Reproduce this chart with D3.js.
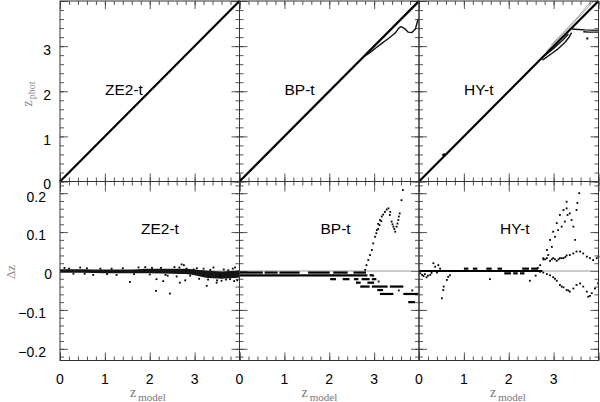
<!DOCTYPE html>
<html><head><meta charset="utf-8">
<script src="https://cdn.jsdelivr.net/npm/d3@7"></script>
<style>body{margin:0;background:#fff}svg{display:block}</style>
</head><body>
<svg id="c" width="600" height="402"></svg>
<script>
// ---------------- data ----------------
const panelNames = ["ZE2-t", "BP-t", "HY-t"];
const zTicks = [0, 1, 2, 3];
const photTicks = [0, 1, 2, 3];
const dzTicks = [-0.2, -0.1, 0, 0.1, 0.2];

// top row: tracks of [z_model, z_phot]
const zeTopMain = [[0, 0], [4, 4]];
const zeTopBranches = [];
const zeTopFaint = [];
const zeTopDots = [];

const bpTopMain = [[0, 0], [4, 4]];
const bpTopBranches = [
  [[2.76, 2.76], [2.9, 2.85], [3.05, 2.97], [3.17, 3.06], [3.32, 3.17], [3.47, 3.29], [3.55, 3.4], [3.6, 3.43], [3.68, 3.39], [3.76, 3.31], [3.84, 3.3], [3.92, 3.38], [3.98, 3.6]]
];
const bpTopFaint = [
  [[2.9, 2.88], [3.5, 3.47], [4.0, 3.96]]
];
const bpTopDots = [];

const hyTopMain = [[0, 0], [4, 4]];
const hyTopBranches = [
  [[3.41, 3.38], [3.55, 3.37], [3.7, 3.36], [4.0, 3.35]],
  [[3.66, 3.32], [3.8, 3.31], [4.0, 3.31]],
  [[2.75, 2.69], [2.95, 2.83], [3.1, 2.94], [3.25, 3.08], [3.34, 3.19], [3.4, 3.3]],
  [[2.8, 2.79], [3.0, 2.95], [3.2, 3.13], [3.33, 3.27]]
];
const hyTopFaint = [
  [[2.85, 2.9], [3.4, 3.47], [3.9, 4.0]],
  [[2.95, 3.03], [3.5, 3.6], [3.84, 4.0]]
];
const hyTopDots = [[0.54, 0.59], [0.56, 0.6], [3.75, 3.17]];

// bottom row: delta z
const zeBandZ  = [0, 0.5, 1, 1.5, 2, 2.5, 2.8, 3.0, 3.2, 3.4, 3.6, 3.8, 4.0];
const zeBandHi = [0.004, 0.004, 0.003, 0.003, 0.005, 0.005, 0.005, 0.003, 0.001, -0.001, -0.002, -0.001, 0.001];
const zeBandLo = [-0.004, -0.004, -0.005, -0.005, -0.005, -0.006, -0.007, -0.010, -0.015, -0.018, -0.019, -0.018, -0.016];
const zePoints = [
  [0.1, 0.008], [0.3, -0.007], [0.45, 0.009], [0.6, 0.007], [0.74, -0.01], [0.9, 0.006], [1.05, -0.008],
  [1.26, -0.01], [1.4, 0.007], [1.75, 0.009], [1.9, 0.01], [2.0, -0.009], [2.25, 0.008], [2.4, -0.012],
  [2.55, 0.01], [2.6, -0.014], [2.66, 0.009], [2.71, 0.017], [2.76, 0.015], [2.82, 0.006], [2.9, -0.012],
  [2.98, 0.004], [3.05, 0.007], [3.1, -0.02], [3.2, 0.006], [3.42, 0.009], [3.5, -0.024], [3.57, -0.013],
  [3.65, 0.004], [3.7, -0.022], [3.79, -0.021], [3.85, 0.006], [3.9, 0.009], [3.95, -0.024],
  [1.56, -0.028], [2.14, -0.051], [2.45, -0.058], [2.3, -0.026], [2.15, -0.021], [2.67, -0.03],
  [2.79, -0.024], [3.27, -0.038], [3.49, -0.03],
  [0.2, 0.006], [0.55, -0.007], [1.15, 0.006], [1.65, -0.008], [2.05, 0.008], [2.35, -0.01], [3.3, -0.022],
  [3.35, 0.003], [3.6, -0.025], [3.75, 0.002], [3.88, -0.026]
];
const zeRuns = [];

// runs: [z_start, z_end, delta z]
const bpRuns = [
  [0, 0.52, -0.004], [0.56, 0.85, -0.004], [0.89, 1.34, -0.004], [1.53, 2.01, -0.004], [2.09, 2.41, -0.004], [2.54, 2.82, -0.004],
  [0, 2.85, -0.011], [2.9, 2.98, -0.011],
  [2.02, 2.15, -0.021], [2.3, 2.45, -0.021], [2.55, 2.65, -0.021], [2.72, 2.9, -0.021], [2.95, 3.05, -0.021],
  [2.6, 2.7, -0.030], [2.85, 3.0, -0.030],
  [2.69, 2.9, -0.040], [2.95, 3.3, -0.040], [3.35, 3.65, -0.040],
  [3.13, 3.43, -0.059], [3.65, 3.98, -0.059],
  [3.07, 3.2, -0.049],
  [3.76, 3.91, -0.080]
];
const bpPoints = [
  [2.80, 0.003], [2.83, 0.015], [2.87, 0.028], [2.91, 0.041], [2.95, 0.054], [2.98, 0.071], [3.02, 0.088],
  [3.06, 0.105], [3.09, 0.121], [3.13, 0.131], [3.17, 0.14], [3.24, 0.152], [3.32, 0.161], [3.35, 0.144],
  [3.39, 0.127], [3.43, 0.114], [3.47, 0.101], [3.50, 0.114], [3.54, 0.131], [3.57, 0.148], [3.61, 0.182], [3.64, 0.208],
  [3.05, 0.097], [3.09, 0.108], [3.12, 0.118], [3.16, 0.128], [3.2, 0.145], [3.28, 0.158], [3.36, 0.152], [3.41, 0.12], [3.45, 0.108],
  [3.52, 0.122], [3.55, 0.14],
  [2.62, -0.03], [2.98, -0.012], [3.1, -0.027], [3.55, -0.05], [3.85, -0.05]
];

const hyRuns = [
  [0, 2.75, 0.0],
  [1.0, 1.1, 0.006], [1.2, 1.3, 0.006], [1.5, 1.62, 0.006], [1.75, 1.85, 0.006], [2.3, 2.45, 0.006], [2.5, 2.65, 0.006],
  [1.9, 2.05, -0.006], [2.1, 2.2, -0.006], [2.25, 2.35, -0.006]
];
const hyPoints = [
  [0.03, -0.006], [0.07, -0.01], [0.1, -0.013], [0.13, -0.008], [0.17, -0.016], [0.2, -0.012], [0.25, -0.01],
  [0.28, -0.005], [0.32, 0.02], [0.36, 0.011], [0.43, 0.015], [0.51, -0.07], [0.54, -0.049], [0.55, -0.04],
  [0.62, -0.023], [0.65, -0.015], [0.69, -0.011], [0.4, -0.004], [0.47, 0.006], [1.58, -0.021], [2.47, -0.025],
  [2.6, -0.012], [2.65, 0.008],
  // upper branch
  [2.70, 0.015], [2.77, 0.033], [2.85, 0.054], [2.92, 0.080], [2.99, 0.101], [3.07, 0.123], [3.14, 0.144],
  [3.22, 0.157], [3.29, 0.161], [3.36, 0.148], [3.40, 0.131], [3.44, 0.114], [3.48, 0.080],
  [3.31, 0.144], [3.25, 0.127], [3.18, 0.114], [3.10, 0.105], [3.03, 0.088], [2.96, 0.062], [2.88, 0.041],
  [3.51, 0.157], [3.53, 0.175], [3.57, 0.2], [3.29, 0.178],
  // middle branch
  [2.77, 0.03], [2.81, 0.03], [2.85, 0.033], [2.92, 0.026], [2.96, 0.03], [2.99, 0.033], [3.03, 0.03], [3.07, 0.026],
  [3.11, 0.03], [3.14, 0.033], [3.18, 0.033], [3.22, 0.033], [3.26, 0.036], [3.29, 0.04], [3.36, 0.041],
  [3.44, 0.045], [3.51, 0.05], [3.59, 0.05], [3.66, 0.045], [3.74, 0.037], [3.81, 0.033], [3.88, 0.028],
  [3.96, 0.033], [4.0, 0.037],
  // lower branch
  [2.70, -0.002], [2.77, -0.004], [2.85, -0.008], [2.92, -0.011], [2.99, -0.016], [3.07, -0.025], [3.14, -0.036],
  [3.22, -0.042], [3.29, -0.049], [3.36, -0.053], [3.44, -0.045], [3.51, -0.036], [3.59, -0.032], [3.66, -0.040],
  [3.74, -0.053], [3.77, -0.066], [3.81, -0.064], [3.85, -0.057], [3.92, -0.045], [3.99, -0.032],
  [3.03, -0.02], [3.18, -0.04], [3.33, -0.05]
];

// ---------------- layout ----------------
const svg = d3.select("#c");
const colX0 = [60, 239.5, 419];
const colW = 179.5;
const topY = [1, 181.5];
const botY = [181.5, 360.5];
const frameColor = "#333";
const tickColor = "#444";

const topData = [
  {main: zeTopMain, br: zeTopBranches, faint: zeTopFaint, dots: zeTopDots},
  {main: bpTopMain, br: bpTopBranches, faint: bpTopFaint, dots: bpTopDots},
  {main: hyTopMain, br: hyTopBranches, faint: hyTopFaint, dots: hyTopDots}
];
const botData = [
  {runs: zeRuns, pts: zePoints},
  {runs: bpRuns, pts: bpPoints},
  {runs: hyRuns, pts: hyPoints}
];
const zLabelOffset = [70, 62, 71];

function ticksAxis(g, axisFn, scale, majors, minors, majLen, minLen) {
  g.append("g").call(axisFn(scale).tickValues(minors).tickSize(minLen).tickFormat(""))
    .call(s => s.select(".domain").remove())
    .call(s => s.selectAll("line").attr("stroke", tickColor).attr("stroke-width", 0.9));
  g.append("g").call(axisFn(scale).tickValues(majors).tickSize(majLen).tickFormat(""))
    .call(s => s.select(".domain").remove())
    .call(s => s.selectAll("line").attr("stroke", tickColor).attr("stroke-width", 0.9));
}

const xMinor = d3.range(0, 4.001, 0.2).map(v => +v.toFixed(2));
const xMajor = [0, 1, 2, 3, 4];
const yTopMinor = d3.range(0, 4.001, 0.2).map(v => +v.toFixed(2));
const yTopMajor = [0, 1, 2, 3, 4];
const yBotMinor = d3.range(-0.22, 0.2201, 0.02).map(v => +v.toFixed(2));
const yBotMajor = [-0.2, -0.1, 0, 0.1, 0.2];

const line = d3.line();

for (let c = 0; c < 3; c++) {
  const x = d3.scaleLinear().domain([0, 4]).range([colX0[c], colX0[c] + colW]);
  const yT = d3.scaleLinear().domain([0, 4]).range([topY[1], topY[0]]);
  const yB = d3.scaleLinear().domain([-0.23, 0.23]).range([botY[1], botY[0]]);

  // ---- top panel ----
  const gt = svg.append("g");
  ticksAxis(gt.append("g").attr("transform", `translate(0,${topY[1]})`), d3.axisBottom, x, xMajor, xMinor, -8, -4);
  ticksAxis(gt.append("g").attr("transform", `translate(0,${topY[0]})`), d3.axisTop, x, xMajor, xMinor, -8, -4);
  ticksAxis(gt.append("g").attr("transform", `translate(${colX0[c]},0)`), d3.axisLeft, yT, yTopMajor, yTopMinor, -8, -4);
  ticksAxis(gt.append("g").attr("transform", `translate(${colX0[c] + colW},0)`), d3.axisRight, yT, yTopMajor, yTopMinor, -8, -4);

  const td = topData[c];
  const toPx = pts => pts.map(p => [x(p[0]), yT(p[1])]);
  td.faint.forEach(t => gt.append("path").attr("d", line(toPx(t))).attr("fill", "none")
    .attr("stroke", "#999").attr("stroke-width", 0.9));
  gt.append("path").attr("d", line(toPx(td.main))).attr("fill", "none")
    .attr("stroke", "#000").attr("stroke-width", 2.2);
  td.br.forEach(t => gt.append("path").attr("d", line(toPx(t))).attr("fill", "none")
    .attr("stroke", "#111").attr("stroke-width", 1.4).attr("stroke-linejoin", "round"));
  gt.selectAll(null).data(td.dots).enter().append("rect")
    .attr("x", d => x(d[0]) - 1).attr("y", d => yT(d[1]) - 1).attr("width", 2).attr("height", 2).attr("fill", "#000");

  gt.append("text").attr("x", colX0[c] + 45).attr("y", 95)
    .attr("font-family", "Liberation Sans, Arial, sans-serif").attr("font-size", 15.5).attr("fill", "#000")
    .text(panelNames[c]);

  // ---- bottom panel ----
  const gb = svg.append("g");
  ticksAxis(gb.append("g").attr("transform", `translate(0,${botY[1]})`), d3.axisBottom, x, xMajor, xMinor, -8, -4);
  ticksAxis(gb.append("g").attr("transform", `translate(0,${botY[0]})`), d3.axisTop, x, xMajor, xMinor, -10, -4);
  ticksAxis(gb.append("g").attr("transform", `translate(${colX0[c]},0)`), d3.axisLeft, yB, yBotMajor, yBotMinor, -8, -4);
  ticksAxis(gb.append("g").attr("transform", `translate(${colX0[c] + colW},0)`), d3.axisRight, yB, yBotMajor, yBotMinor, -8, -4);

  gb.append("line").attr("x1", x(0)).attr("x2", x(4)).attr("y1", yB(0)).attr("y2", yB(0))
    .attr("stroke", "#999").attr("stroke-width", 1);

  if (c === 0) {
    const bandRows = zeBandZ.map((z, i) => [z, zeBandLo[i], zeBandHi[i]]);
    const area = d3.area().x(d => x(d[0])).y0(d => yB(d[1]) + 0.3).y1(d => yB(d[2]) - 0.3).curve(d3.curveMonotoneX);
    gb.append("path").attr("d", area(bandRows)).attr("fill", "#151515");
  }
  const bd = botData[c];
  gb.selectAll(null).data(bd.runs).enter().append("line")
    .attr("x1", d => x(d[0])).attr("x2", d => x(d[1]))
    .attr("y1", d => yB(d[2])).attr("y2", d => yB(d[2]))
    .attr("stroke", "#000").attr("stroke-width", 2.2);
  gb.selectAll(null).data(bd.pts).enter().append("rect")
    .attr("x", d => x(d[0]) - 0.9).attr("y", d => yB(d[1]) - 0.9)
    .attr("width", 1.8).attr("height", 1.8).attr("fill", "#000");

  gb.append("text").attr("x", colX0[c] + 81).attr("y", 234)
    .attr("font-family", "Liberation Sans, Arial, sans-serif").attr("font-size", 15.5).attr("fill", "#000")
    .text(panelNames[c]);

  gb.selectAll(null).data(zTicks).enter().append("text")
    .attr("x", d => x(d)).attr("y", 384).attr("text-anchor", "middle")
    .attr("font-family", "Liberation Sans, Arial, sans-serif").attr("font-size", 14).attr("fill", "#000")
    .text(d => d);

  const xt = gb.append("text").attr("x", colX0[c] + zLabelOffset[c]).attr("y", 397)
    .attr("font-family", "Liberation Serif, serif").attr("fill", "#777");
  xt.append("tspan").attr("font-size", 14).text("z");
  xt.append("tspan").attr("font-size", 11).attr("dx", 2).attr("dy", 4).text("model");

  [topY, botY].forEach(yy => {
    svg.append("rect").attr("x", colX0[c]).attr("y", yy[0]).attr("width", colW).attr("height", yy[1] - yy[0])
      .attr("fill", "none").attr("stroke", frameColor).attr("stroke-width", 1);
  });

  if (c === 0) {
    svg.selectAll(null).data(photTicks).enter().append("text")
      .attr("x", 51).attr("y", d => yT(d) + (d === 0 ? 7.5 : 8.5)).attr("text-anchor", "end")
      .attr("font-family", "Liberation Sans, Arial, sans-serif").attr("font-size", 14).attr("fill", "#000")
      .text(d => d);
    svg.selectAll(null).data(dzTicks).enter().append("text")
      .attr("x", d => d === 0 ? 52 : 46).attr("y", d => yB(d) + (d === 0.2 ? 9 : 8)).attr("text-anchor", "end")
      .attr("font-family", "Liberation Sans, Arial, sans-serif").attr("font-size", 14).attr("fill", "#000")
      .text(d => d === 0 ? "0" : d3.format(".1f")(d));
    const yt = svg.append("text").attr("transform", "translate(32,94) rotate(-90)").attr("text-anchor", "middle")
      .attr("font-family", "Liberation Serif, serif").attr("fill", "#888");
    yt.append("tspan").attr("font-size", 14).text("z");
    yt.append("tspan").attr("font-size", 10).attr("dx", 1).attr("dy", 3).text("phot");
    svg.append("text").attr("transform", "translate(15,272) rotate(-90)").attr("text-anchor", "middle")
      .attr("font-family", "Liberation Serif, serif").attr("font-size", 13).attr("fill", "#888")
      .text("Δz");
  }
}
</script>
</body></html>
